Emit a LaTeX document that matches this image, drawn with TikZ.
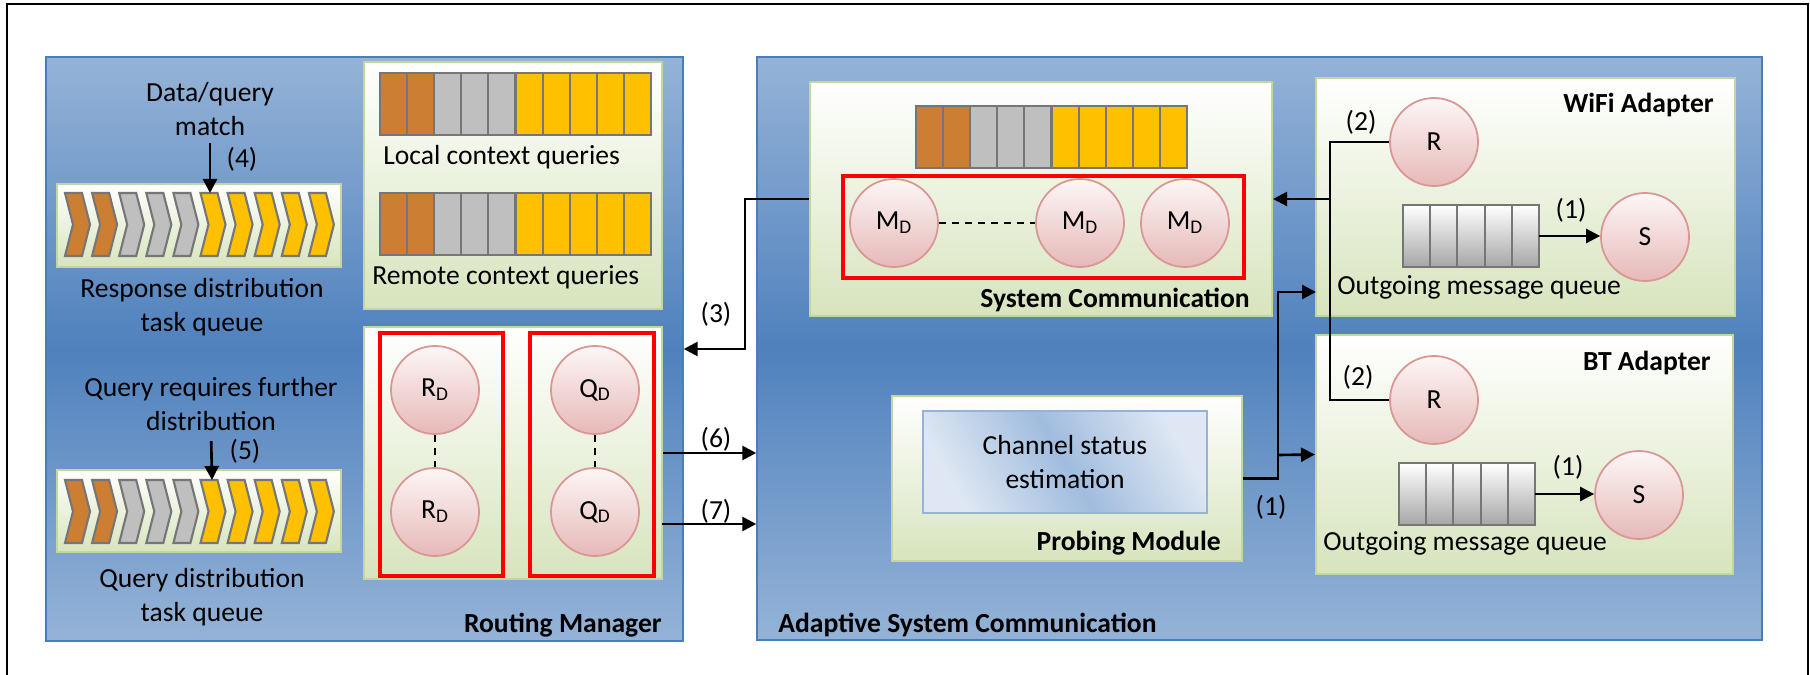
\documentclass[tikz,border=0pt]{standalone}
\usepackage{fontspec}
\setmainfont{Carlito}
\usetikzlibrary{arrows.meta}

\definecolor{pl}{RGB}{149,179,215}
\definecolor{pm}{RGB}{79,129,189}
\definecolor{pline}{RGB}{74,126,187}
\definecolor{gfill}{RGB}{215,228,189}
\definecolor{gline}{RGB}{195,214,155}
\definecolor{cw}{RGB}{253,246,246}
\definecolor{cb}{RGB}{230,185,184}
\definecolor{cline}{RGB}{217,150,148}
\definecolor{qor}{RGB}{204,127,50}
\definecolor{qgr}{RGB}{191,191,191}
\definecolor{qye}{RGB}{255,192,0}
\definecolor{qline}{RGB}{118,118,118}
\definecolor{qdark}{RGB}{166,166,166}
\definecolor{chl}{RGB}{222,231,243}
\definecolor{chm}{RGB}{160,188,222}

\tikzset{
  panel/.style={draw=pline,line width=0.8pt,top color=pl,bottom color=pl,middle color=pm,inner sep=0},
  greenbox/.style={draw=gline,line width=1.2pt,top color=white,bottom color=gfill,inner sep=0},
  redbox/.style={draw=red,line width=2.5pt,inner sep=0},
  ball/.style={circle,draw=cline,line width=1pt,top color=cw,bottom color=cb,minimum size=17.6mm,inner sep=0},
  cell/.style={draw=qline,line width=1.2pt},
  qnode/.style={minimum width=27.2mm,minimum height=12.4mm,inner sep=0},
  title/.style={font=\fontsize{15.7}{19}\selectfont\bfseries,inner sep=0},
  lbl/.style={inner sep=0,align=center},
  conn/.style={line width=1.5pt},
  dashline/.style={line width=1.2pt,dash pattern=on 1.5mm off 1.1mm}
}

\begin{document}
\begin{tikzpicture}[x=0.2mm,y=-0.2mm,font=\fontsize{15.7}{19}\selectfont,>={Triangle[length=2.8mm,width=2.8mm]}]
 		\useasboundingbox (0,0) rectangle (1810,675);
 		\draw[line width=1.2pt] (7,675) -- (7,4) -- (1808,4) -- (1808,675);

 		\node[panel,minimum width=127.4mm,minimum height=116.8mm] (rm) at (364.5,349) {};
 		\node[panel,minimum width=201mm,minimum height=116.6mm] (asc) at (1259.5,348.5) {};

 		\node[greenbox,minimum width=56.8mm,minimum height=16.6mm] (resp) at (199,225.5) {};
 		\node[greenbox,minimum width=56.8mm,minimum height=16.4mm] (qdist) at (199,511) {};
 		\node[greenbox,minimum width=59.6mm,minimum height=49.4mm] (ctx) at (513,185.5) {};
 		\node[greenbox,minimum width=59.6mm,minimum height=50.4mm] (rdqd) at (513,453) {};
 		\node[greenbox,minimum width=92.4mm,minimum height=46.8mm] (syscom) at (1041,199) {};
 		\node[greenbox,minimum width=83.8mm,minimum height=47.6mm] (wifi) at (1525.5,197) {};
 		\node[greenbox,minimum width=83.4mm,minimum height=47.8mm] (bt) at (1524.5,454.5) {};
 		\node[greenbox,minimum width=70mm,minimum height=33mm] (probe) at (1067,478.5) {};

 		\foreach \y in {193,480}
 		  \foreach \i/\c in {0/qor,1/qor,2/qgr,3/qgr,4/qgr,5/qye,6/qye,7/qye,8/qye,9/qye}
 		    \draw[cell,fill=\c] (65+\i*27.1,\y) -- ++(17,0) -- ++(8,31.5) -- ++(-8,31.5) -- ++(-17,0) -- ++(8,-31.5) -- cycle;

 		\foreach \x/\y in {380/73,380/193,916/106}
 		  \foreach \i/\c in {0/qor,1/qor,2/qgr,3/qgr,4/qgr,5/qye,6/qye,7/qye,8/qye,9/qye}
 		    \draw[cell,fill=\c] (\x+\i*27.1,\y) rectangle ++(27.1,62);

 		\node[lbl] (dq) at (210,109) {Data/query\\match};
 		\coordinate (b4) at (210,193);
 		\draw[conn,->,shorten <=1.5mm] (dq.south) -- (b4);
 		\node[lbl] (l4) at (242,159) {(4)};
 		\node[lbl] (rdt) at (202,307) {Response distribution\\task queue};
 		\node[lbl,anchor=west] (lcq) at (383,157) {Local context queries};
 		\node[lbl,anchor=west] (rcq) at (372,277) {Remote context queries};

 		\node[lbl] (qrf) at (211,404) {Query requires further\\distribution};
 		\coordinate (b5) at (212,480);
 		\draw[conn,->,shorten <=2.1mm] (qrf.south) -- (b5);
 		\node[lbl] (l5) at (245,451) {(5)};
 		\node[lbl] (qdt) at (202,597) {Query distribution\\task queue};
 		\node[title,anchor=east] (rmt) at (662,625) {Routing Manager};

 		\node[redbox,minimum width=24.6mm,minimum height=48.6mm] (red1) at (441.5,454.5) {};
 		\node[redbox,minimum width=24.8mm,minimum height=48.6mm] (red2) at (592,454.5) {};
 		\node[ball] (rd1) at (435,390) {R\textsubscript{D}};
 		\node[ball] (rd2) at (435,512) {R\textsubscript{D}};
 		\node[ball] (qd1) at (595,390) {Q\textsubscript{D}};
 		\node[ball] (qd2) at (595,512) {Q\textsubscript{D}};
 		\draw[dashline] (rd1) -- (rd2);
 		\draw[dashline] (qd1) -- (qd2);

 		\node[redbox,minimum width=80.2mm,minimum height=20.4mm] (red3) at (1043.5,227) {};
 		\node[ball] (md1) at (894,223) {M\textsubscript{D}};
 		\node[ball] (md2) at (1080,223) {M\textsubscript{D}};
 		\node[ball] (md3) at (1185,223) {M\textsubscript{D}};
 		\draw[dashline] (md1) -- (md2);
 		\node[title,anchor=east] (sct) at (1250,300) {System Communication};

 		\node[title,anchor=east] (wft) at (1714,105) {WiFi Adapter};
 		\node[title,anchor=east] (btt) at (1711,363) {BT Adapter};
 		\node[ball] (r1) at (1434,142) {R};
 		\node[ball] (s1) at (1645,237) {S};
 		\node[ball] (r2) at (1434,400) {R};
 		\node[ball] (s2) at (1639,495) {S};
 		\node[qnode] (q1) at (1471,236) {};
 		\node[qnode] (q2) at (1467,494) {};
 		\foreach \x/\y in {1403/205,1399/463}
 		  \foreach \i in {0,...,4}
 		    \draw[cell,top color=white,bottom color=qdark] (\x+\i*27.2,\y) rectangle ++(27.2,62);
 		\draw[conn,->] (q1.east) -- (q1.east -| s1.west);
 		\draw[conn,->] (q2.east) -- (q2.east -| s2.west);
 		\node[lbl] (l1a) at (1571,210) {(1)};
 		\node[lbl] (l1b) at (1568,467) {(1)};
 		\node[lbl,anchor=west] (omq1) at (1337,287) {Outgoing message queue};
 		\node[lbl,anchor=west] (omq2) at (1323,543) {Outgoing message queue};
 		\node[lbl] (l2a) at (1361,122) {(2)};
 		\node[lbl] (l2b) at (1358,377) {(2)};

 		\node[lbl,draw=pl,line width=0.8pt,left color=chl,right color=chl,middle color=chm,shading angle=120,minimum width=56.8mm,minimum height=20.4mm] (chan) at (1065,462) {Channel status\\estimation};
 		\node[title,anchor=east] (pmt) at (1221,543) {Probing Module};
 		\node[title,anchor=west] (asct) at (778,625) {Adaptive System Communication};
 		\node[lbl] (l1c) at (1271,507) {(1)};

 		\coordinate (jr) at (1330,199);
 		\draw[conn] (r1.west) -| (jr) |- (r2.west);
 		\draw[conn,->] (jr) -- (syscom.east);

 		\coordinate (jp) at (1278,455);
 		\coordinate (wi) at (1316,292);
 		\draw[conn,->] (probe.east) -| (jp) |- (wi);
 		\draw[conn,->] (jp) -- (bt.west);

 		\draw[conn,->] (syscom.west) -- ++(-64,0) |- (rm.east);
 		\node[lbl] (l3) at (716,314) {(3)};

 		\coordinate (p7) at (662,524);
 		\draw[conn,->] (rdqd.east) -- (rdqd.east -| asc.west);
 		\draw[conn,->] (p7) -- (p7 -| asc.west);
 		\node[lbl] (l6) at (716,439) {(6)};
 		\node[lbl] (l7) at (716,511) {(7)};
 	 \end{tikzpicture}
\end{document}
